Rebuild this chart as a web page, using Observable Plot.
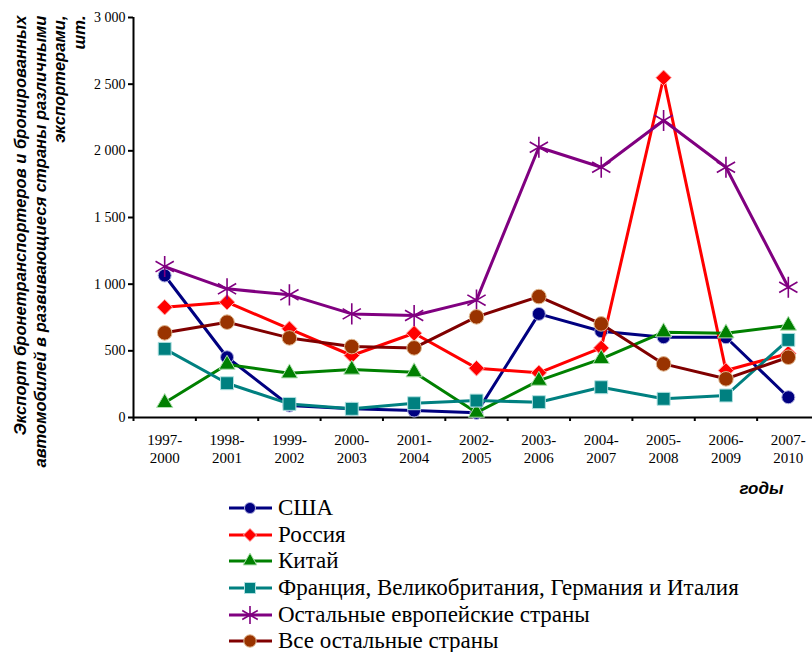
<!DOCTYPE html>
<html><head><meta charset="utf-8">
<script src="https://cdn.jsdelivr.net/npm/d3@7"></script>
<script src="https://cdn.jsdelivr.net/npm/@observablehq/plot@0.6"></script>
<style>
body{margin:0;background:#fff;}
#legend{font-family:"Liberation Serif",serif;font-size:23px;padding-left:229px;color:#000;}
.row{height:26.6px;display:flex;align-items:center;white-space:nowrap;}
.row svg{margin-right:6px;flex:none;}
</style></head><body><div id="chart"></div><div id="legend"></div>
<script>
const periods = ["1997-2000","1998-2001","1999-2002","2000-2003","2001-2004","2002-2005","2003-2006","2004-2007","2005-2008","2006-2009","2007-2010"];
const periodLabels = periods.map(p => p.replace("-", "-\n"));
const yTicks = [0, 500, 1000, 1500, 2000, 2500, 3000];
const seriesNames = ["США","Россия","Китай","Франция, Великобритания, Германия и Италия","Остальные европейские страны","Все остальные страны"];
const usa    = [1065, 452, 90, 65, 52, 35, 777, 647, 602, 602, 152];
const russia = [827, 865, 665, 465, 632, 370, 335, 522, 2548, 352, 480];
const china  = [110, 397, 332, 360, 340, 37, 277, 440, 640, 632, 690];
const fgi    = [515, 257, 102, 65, 107, 127, 115, 227, 140, 165, 582];
const europe = [1132, 965, 920, 777, 765, 880, 2027, 1877, 2227, 1877, 977];
const others = [635, 715, 597, 532, 522, 755, 907, 702, 402, 290, 452];
const yTitle = "Экспорт бронетранспортеров и бронированных\nавтомобилей в развивающиеся страны различными\nэкспортерами,\nшт.";
const xTitle = "годы";

const series = [
  {name: seriesNames[0], values: usa,    line: "#000080", fill: "#000080", edge: "#b0b0e0", symbol: "circle",   r: 6.5},
  {name: seriesNames[1], values: russia, line: "#ff0000", fill: "#ff0000", edge: "#ffb0b0", symbol: "diamond2", r: 7},
  {name: seriesNames[2], values: china,  line: "#008000", fill: "#008000", edge: "#b0e0b0", symbol: "triangle", r: 6},
  {name: seriesNames[3], values: fgi,    line: "#008080", fill: "#008080", edge: "#b0e0e0", symbol: "square",   r: 7.3},
  {name: seriesNames[4], values: europe, line: "#800080", fill: "none",    edge: "#800080", symbol: "asterisk", r: 10},
  {name: seriesNames[5], values: others, line: "#800000", fill: "#993300", edge: "#e0b890", symbol: "circle",   r: 7.3}
];

const marks = [];
marks.push(Plot.ruleY([0], {stroke: "black", strokeWidth: 2}));
marks.push(Plot.ruleX([-0.5], {stroke: "black", strokeWidth: 2}));
marks.push(Plot.axisY({ticks: yTicks, tickFormat: d => d3.format(",")(d).replace(",", " "), tickSize: 5, tickPadding: 3, fontSize: 14, strokeWidth: 2, label: null}));
marks.push(Plot.axisX({ticks: d3.range(-0.5, 11, 1), tickSize: 4, tickFormat: () => "", strokeWidth: 2, label: null}));
marks.push(Plot.text(periodLabels, {x: (d, i) => i, y: () => 0, dy: 15, lineAnchor: "top", lineHeight: 1.2, fontSize: 15, fill: "black"}));
for (const s of series) {
  marks.push(Plot.line(s.values, {x: (d, i) => i, y: d => d, stroke: s.line, strokeWidth: 3}));
  marks.push(Plot.dot(s.values, {x: (d, i) => i, y: d => d, symbol: s.symbol, r: s.r, fill: s.fill, stroke: s.edge, strokeWidth: s.symbol === "asterisk" ? 1.6 : 1}));
}
marks.push(Plot.text([yTitle], {frameAnchor: "top-left", dx: -121, dy: -2, rotate: -90, textAnchor: "end", lineAnchor: "top", lineHeight: 1.17, fontFamily: "Liberation Sans", fontWeight: "bold", fontStyle: "italic", fontSize: 16.6, fill: "black"}));
marks.push(Plot.text([xTitle], {frameAnchor: "bottom-right", dx: -29, dy: 71, textAnchor: "end", lineAnchor: "middle", fontFamily: "Liberation Sans", fontWeight: "bold", fontStyle: "italic", fontSize: 17, fill: "black"}));

const chart = Plot.plot({
  width: 812, height: 495,
  marginLeft: 133, marginRight: 0, marginTop: 17, marginBottom: 78,
  x: {type: "linear", domain: [-0.5, 10.5], range: [133, 819], axis: null},
  y: {domain: [0, 3000], range: [417, 17], axis: null},
  style: {fontFamily: "Liberation Serif", fontSize: "14px", color: "black", background: "white", overflow: "visible"},
  marks
});
document.getElementById("chart").appendChild(chart);

const legend = document.getElementById("legend");
const symMap = {circle: d3.symbolCircle, diamond2: d3.symbolDiamond2, triangle: d3.symbolTriangle, square: d3.symbolSquare, asterisk: d3.symbolAsterisk};
for (const s of series) {
  const row = document.createElement("div");
  row.className = "row";
  const size = Math.PI * (s.r * 0.85) ** 2;
  const d = d3.symbol().type(symMap[s.symbol]).size(size)();
  const svgNS = "http://www.w3.org/2000/svg";
  const svg = document.createElementNS(svgNS, "svg");
  svg.setAttribute("width", 43); svg.setAttribute("height", 22);
  const ln = document.createElementNS(svgNS, "line");
  ln.setAttribute("x1", 0); ln.setAttribute("x2", 43); ln.setAttribute("y1", 11); ln.setAttribute("y2", 11);
  ln.setAttribute("stroke", s.line); ln.setAttribute("stroke-width", 3);
  svg.appendChild(ln);
  const p = document.createElementNS(svgNS, "path");
  p.setAttribute("d", d); p.setAttribute("transform", "translate(21,11)");
  p.setAttribute("fill", s.fill); p.setAttribute("stroke", s.edge);
  p.setAttribute("stroke-width", s.symbol === "asterisk" ? 1.6 : 1);
  svg.appendChild(p);
  row.appendChild(svg);
  const t = document.createElement("span");
  t.textContent = s.name;
  row.appendChild(t);
  legend.appendChild(row);
}
</script></body></html>
